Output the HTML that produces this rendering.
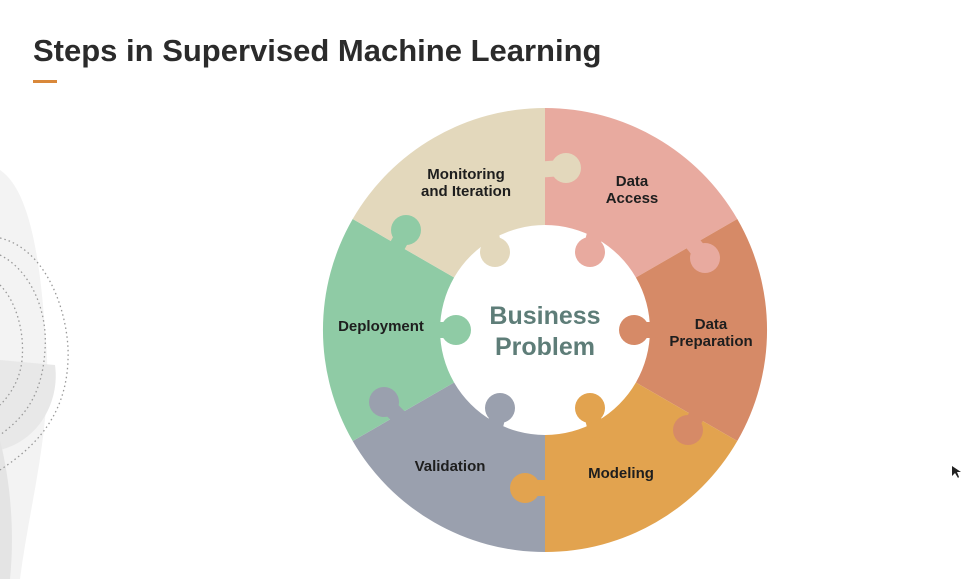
<!DOCTYPE html>
<html><head><meta charset="utf-8"><style>
html,body{margin:0;padding:0;background:#fff;width:964px;height:579px;overflow:hidden}
svg{position:absolute;left:0;top:0}
</style></head><body>
<svg width="964" height="579" viewBox="0 0 964 579" font-family="Liberation Sans, sans-serif">
<path d="M0,170 C30,190 40,260 45,330 C55,420 30,500 20,579 L0,579 Z" fill="#f3f3f3"/>
<path d="M0,360 L55,365 C60,400 40,440 0,450 Z" fill="#e8e8e8"/>
<path d="M0,440 C10,480 15,530 10,579 L0,579 Z" fill="#e4e4e4"/>
<g fill="none" stroke="#999" stroke-width="1.3" stroke-dasharray="1.5 3">
<path d="M0,238 C50,250 70,320 68,360 C66,420 30,450 0,470"/>
<path d="M0,255 C30,270 48,310 45,350 C42,400 20,420 0,435"/>
<path d="M0,285 C15,300 25,330 22,360 C20,380 10,395 0,405"/>
</g>
<text x="33" y="61" font-size="31" font-weight="bold" fill="#2b2b2b">Steps in Supervised Machine Learning</text>
<rect x="33" y="80" width="24" height="3" fill="#d9883a"/>
<path d="M545,108 A222,222 0 0 1 737.3,219 L635.9,277.5 A105,105 0 0 0 545,225 Z" fill="#e8aa9f"/>
<path d="M737.3,219 A222,222 0 0 1 737.3,441 L635.9,382.5 A105,105 0 0 0 635.9,277.5 Z" fill="#d68a67"/>
<path d="M737.3,441 A222,222 0 0 1 545,552 L545,435 A105,105 0 0 0 635.9,382.5 Z" fill="#e2a34f"/>
<path d="M545,552 A222,222 0 0 1 352.7,441 L454.1,382.5 A105,105 0 0 0 545,435 Z" fill="#9aa0ae"/>
<path d="M352.7,441 A222,222 0 0 1 352.7,219 L454.1,277.5 A105,105 0 0 0 454.1,382.5 Z" fill="#8fcba5"/>
<path d="M352.7,219 A222,222 0 0 1 545,108 L545,225 A105,105 0 0 0 454.1,277.5 Z" fill="#e3d8bc"/>
<g stroke-width="16" stroke-linecap="round">
<line x1="535" y1="170" x2="562" y2="168" stroke="#e3d8bc"/><circle cx="566" cy="168" r="15" fill="#e3d8bc"/>
<line x1="395" y1="250" x2="405" y2="232" stroke="#8fcba5"/><circle cx="406" cy="230" r="15" fill="#8fcba5"/>
<line x1="690" y1="240" x2="703" y2="256" stroke="#e8aa9f"/><circle cx="705" cy="258" r="15" fill="#e8aa9f"/>
<line x1="700" y1="410" x2="690" y2="427" stroke="#d68a67"/><circle cx="688" cy="430" r="15" fill="#d68a67"/>
<line x1="555" y1="488" x2="528" y2="488" stroke="#e2a34f"/><circle cx="525" cy="488" r="15" fill="#e2a34f"/>
<line x1="400" y1="418" x2="387" y2="405" stroke="#9aa0ae"/><circle cx="384" cy="402" r="15" fill="#9aa0ae"/>
<line x1="490" y1="230" x2="494" y2="249" stroke="#e3d8bc"/><circle cx="495" cy="252" r="15" fill="#e3d8bc"/>
<line x1="596" y1="230" x2="591" y2="249" stroke="#e8aa9f"/><circle cx="590" cy="252" r="15" fill="#e8aa9f"/>
<line x1="655" y1="330" x2="637" y2="330" stroke="#d68a67"/><circle cx="634" cy="330" r="15" fill="#d68a67"/>
<line x1="596" y1="430" x2="591" y2="411" stroke="#e2a34f"/><circle cx="590" cy="408" r="15" fill="#e2a34f"/>
<line x1="494" y1="430" x2="499" y2="411" stroke="#9aa0ae"/><circle cx="500" cy="408" r="15" fill="#9aa0ae"/>
<line x1="435" y1="330" x2="453" y2="330" stroke="#8fcba5"/><circle cx="456" cy="330" r="15" fill="#8fcba5"/>
</g>
<g font-size="15" font-weight="bold" fill="#1e1e1e" text-anchor="middle">
<text x="466" y="179">Monitoring</text><text x="466" y="196">and Iteration</text>
<text x="632" y="186">Data</text><text x="632" y="203">Access</text>
<text x="711" y="329">Data</text><text x="711" y="346">Preparation</text>
<text x="621" y="478">Modeling</text>
<text x="450" y="471">Validation</text>
<text x="381" y="331">Deployment</text>
</g>
<g font-size="25" font-weight="bold" fill="#5e7d78" text-anchor="middle">
<text x="545" y="324">Business</text><text x="545" y="355">Problem</text>
</g>
<path d="M952,466 L952,476 L955,473 L958,478 L959,477 L957,472 L961,472 Z" fill="#222"/>
</svg>
</body></html>
